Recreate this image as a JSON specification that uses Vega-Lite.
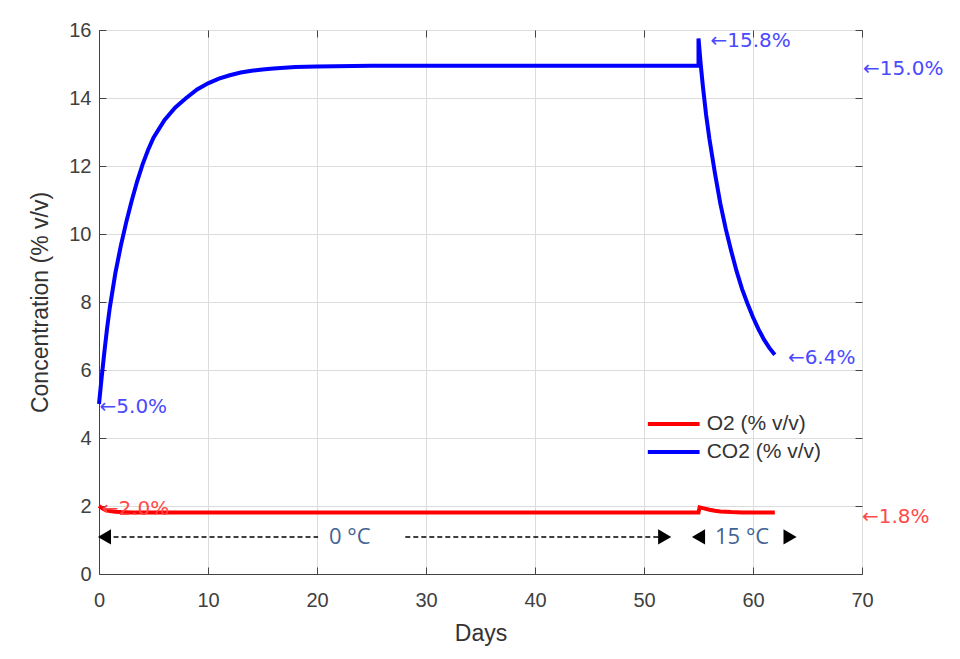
{
  "$schema": "https://vega.github.io/schema/vega-lite/v6.json",
  "width": 763,
  "height": 544,
  "autosize": {"type": "none"},
  "padding": {"left": 99, "top": 30, "right": 98, "bottom": 85},
  "background": "white",
  "config": {
    "view": {"stroke": "#444444", "strokeWidth": 1},
    "axis": {
      "labelFont": "Liberation Sans",
      "labelFontSize": 20,
      "labelColor": "#404040",
      "titleFont": "Liberation Sans",
      "titleFontSize": 23,
      "titleFontWeight": "normal",
      "titleColor": "#333333",
      "gridColor": "#dcdcdc",
      "gridWidth": 1,
      "domainColor": "#444444",
      "tickColor": "#444444",
      "tickSize": -7,
      "tickWidth": 1
    }
  },
  "datasets": {
    "lines": [
      {"seq": 1, "series": "CO2 (% v/v)", "day": 0, "value": 5.0},
      {"seq": 2, "series": "CO2 (% v/v)", "day": 0.25, "value": 5.8},
      {"seq": 3, "series": "CO2 (% v/v)", "day": 0.5, "value": 6.55},
      {"seq": 4, "series": "CO2 (% v/v)", "day": 0.75, "value": 7.25},
      {"seq": 5, "series": "CO2 (% v/v)", "day": 1, "value": 7.85},
      {"seq": 6, "series": "CO2 (% v/v)", "day": 1.5, "value": 8.85},
      {"seq": 7, "series": "CO2 (% v/v)", "day": 2, "value": 9.65},
      {"seq": 8, "series": "CO2 (% v/v)", "day": 2.5, "value": 10.35},
      {"seq": 9, "series": "CO2 (% v/v)", "day": 3, "value": 10.98},
      {"seq": 10, "series": "CO2 (% v/v)", "day": 3.5, "value": 11.55},
      {"seq": 11, "series": "CO2 (% v/v)", "day": 4, "value": 12.05},
      {"seq": 12, "series": "CO2 (% v/v)", "day": 4.5, "value": 12.47},
      {"seq": 13, "series": "CO2 (% v/v)", "day": 5, "value": 12.83},
      {"seq": 14, "series": "CO2 (% v/v)", "day": 6, "value": 13.35},
      {"seq": 15, "series": "CO2 (% v/v)", "day": 7, "value": 13.72},
      {"seq": 16, "series": "CO2 (% v/v)", "day": 8, "value": 14.0},
      {"seq": 17, "series": "CO2 (% v/v)", "day": 9, "value": 14.25},
      {"seq": 18, "series": "CO2 (% v/v)", "day": 10, "value": 14.43},
      {"seq": 19, "series": "CO2 (% v/v)", "day": 11, "value": 14.57},
      {"seq": 20, "series": "CO2 (% v/v)", "day": 12, "value": 14.67},
      {"seq": 21, "series": "CO2 (% v/v)", "day": 13, "value": 14.75},
      {"seq": 22, "series": "CO2 (% v/v)", "day": 14, "value": 14.8},
      {"seq": 23, "series": "CO2 (% v/v)", "day": 15, "value": 14.84},
      {"seq": 24, "series": "CO2 (% v/v)", "day": 16, "value": 14.87},
      {"seq": 25, "series": "CO2 (% v/v)", "day": 18, "value": 14.91},
      {"seq": 26, "series": "CO2 (% v/v)", "day": 20, "value": 14.93},
      {"seq": 27, "series": "CO2 (% v/v)", "day": 25, "value": 14.95},
      {"seq": 28, "series": "CO2 (% v/v)", "day": 30, "value": 14.95},
      {"seq": 29, "series": "CO2 (% v/v)", "day": 40, "value": 14.95},
      {"seq": 30, "series": "CO2 (% v/v)", "day": 50, "value": 14.95},
      {"seq": 31, "series": "CO2 (% v/v)", "day": 55, "value": 14.95},
      {"seq": 32, "series": "CO2 (% v/v)", "day": 55, "value": 15.75},
      {"seq": 33, "series": "CO2 (% v/v)", "day": 55.2, "value": 15.0},
      {"seq": 34, "series": "CO2 (% v/v)", "day": 55.4, "value": 14.35},
      {"seq": 35, "series": "CO2 (% v/v)", "day": 55.7, "value": 13.5},
      {"seq": 36, "series": "CO2 (% v/v)", "day": 56, "value": 12.8},
      {"seq": 37, "series": "CO2 (% v/v)", "day": 56.5, "value": 11.8},
      {"seq": 38, "series": "CO2 (% v/v)", "day": 57, "value": 10.9},
      {"seq": 39, "series": "CO2 (% v/v)", "day": 57.5, "value": 10.15},
      {"seq": 40, "series": "CO2 (% v/v)", "day": 58, "value": 9.5},
      {"seq": 41, "series": "CO2 (% v/v)", "day": 58.5, "value": 8.9},
      {"seq": 42, "series": "CO2 (% v/v)", "day": 59, "value": 8.38},
      {"seq": 43, "series": "CO2 (% v/v)", "day": 59.5, "value": 7.95},
      {"seq": 44, "series": "CO2 (% v/v)", "day": 60, "value": 7.55},
      {"seq": 45, "series": "CO2 (% v/v)", "day": 60.5, "value": 7.2},
      {"seq": 46, "series": "CO2 (% v/v)", "day": 61, "value": 6.9},
      {"seq": 47, "series": "CO2 (% v/v)", "day": 61.5, "value": 6.65},
      {"seq": 48, "series": "CO2 (% v/v)", "day": 62, "value": 6.45},
      {"seq": 101, "series": "O2 (% v/v)", "day": 0, "value": 2.0},
      {"seq": 102, "series": "O2 (% v/v)", "day": 0.3, "value": 1.93},
      {"seq": 103, "series": "O2 (% v/v)", "day": 0.6, "value": 1.88},
      {"seq": 104, "series": "O2 (% v/v)", "day": 1, "value": 1.85},
      {"seq": 105, "series": "O2 (% v/v)", "day": 1.5, "value": 1.83},
      {"seq": 106, "series": "O2 (% v/v)", "day": 2, "value": 1.82},
      {"seq": 107, "series": "O2 (% v/v)", "day": 3, "value": 1.81},
      {"seq": 108, "series": "O2 (% v/v)", "day": 30, "value": 1.81},
      {"seq": 109, "series": "O2 (% v/v)", "day": 55, "value": 1.81},
      {"seq": 110, "series": "O2 (% v/v)", "day": 55.1, "value": 1.96},
      {"seq": 111, "series": "O2 (% v/v)", "day": 55.5, "value": 1.93},
      {"seq": 112, "series": "O2 (% v/v)", "day": 56, "value": 1.89},
      {"seq": 113, "series": "O2 (% v/v)", "day": 56.5, "value": 1.86},
      {"seq": 114, "series": "O2 (% v/v)", "day": 57, "value": 1.84},
      {"seq": 115, "series": "O2 (% v/v)", "day": 57.5, "value": 1.83},
      {"seq": 116, "series": "O2 (% v/v)", "day": 58, "value": 1.82},
      {"seq": 117, "series": "O2 (% v/v)", "day": 59, "value": 1.81},
      {"seq": 118, "series": "O2 (% v/v)", "day": 62, "value": 1.81}
    ],
    "notes": [
      {"series": "CO2", "day": 0.05, "value": 4.9, "label": "←5.0%"},
      {"series": "CO2", "day": 56.1, "value": 15.68, "label": "←15.8%"},
      {"series": "CO2", "day": 70.1, "value": 14.85, "label": "←15.0%"},
      {"series": "CO2", "day": 63.2, "value": 6.35, "label": "←6.4%"},
      {"series": "O2", "day": 0.25, "value": 1.91, "label": "←2.0%"},
      {"series": "O2", "day": 70.0, "value": 1.68, "label": "←1.8%"}
    ],
    "spans": [
      {"start": 0.6, "end": 20.1, "value": 1.09},
      {"start": 28.1, "end": 51.6, "value": 1.09}
    ],
    "heads": [
      {"day": 0.5, "value": 1.09, "dir": "left"},
      {"day": 51.9, "value": 1.09, "dir": "right"},
      {"day": 55.0, "value": 1.09, "dir": "left"},
      {"day": 63.4, "value": 1.09, "dir": "right"}
    ],
    "temps": [
      {"day": 23.0, "value": 1.09, "label": "0 °C"},
      {"day": 59.0, "value": 1.09, "label": "15 °C"}
    ],
    "legend": [
      {"series": "O2 (% v/v)", "from": 50.35, "to": 55.1, "textday": 55.75, "value": 4.41},
      {"series": "CO2 (% v/v)", "from": 50.35, "to": 55.1, "textday": 55.75, "value": 3.59}
    ]
  },
  "layer": [
    {
      "data": {"name": "lines"},
      "mark": {"type": "line", "strokeWidth": 4, "clip": false},
      "encoding": {
        "x": {
          "field": "day", "type": "quantitative",
          "scale": {"domain": [0, 70], "nice": false, "zero": false},
          "axis": {"title": "Days", "values": [0, 10, 20, 30, 40, 50, 60, 70], "labelPadding": 23, "titlePadding": 12, "grid": true, "labelFlush": false}
        },
        "y": {
          "field": "value", "type": "quantitative",
          "scale": {"domain": [0, 16], "nice": false, "zero": false},
          "axis": {"title": "Concentration (% v/v)", "values": [0, 2, 4, 6, 8, 10, 12, 14, 16], "labelPadding": 15, "titlePadding": 16, "grid": true, "labelFlush": false}
        },
        "color": {
          "field": "series", "type": "nominal",
          "scale": {"domain": ["O2 (% v/v)", "CO2 (% v/v)"], "range": ["#ff0000", "#0000ff"]},
          "legend": null
        },
        "order": {"field": "seq", "type": "quantitative"}
      }
    },
    {
      "data": {"name": "spans"},
      "mark": {"type": "rule", "color": "black", "strokeWidth": 1.5, "strokeDash": [5, 3]},
      "encoding": {
        "x": {"field": "start", "type": "quantitative", "axis": {"orient": "top", "labels": false, "title": null, "grid": false, "domain": false, "values": [0, 10, 20, 30, 40, 50, 60, 70]}},
        "x2": {"field": "end"},
        "y": {"field": "value", "type": "quantitative", "axis": {"orient": "right", "labels": false, "title": null, "grid": false, "domain": false, "values": [0, 2, 4, 6, 8, 10, 12, 14, 16]}}
      }
    },
    {
      "data": {"name": "heads"},
      "mark": {"type": "point", "filled": true, "color": "black", "opacity": 1, "size": 230},
      "encoding": {
        "x": {"field": "day", "type": "quantitative", "axis": null},
        "y": {"field": "value", "type": "quantitative", "axis": null},
        "shape": {"field": "dir", "type": "nominal", "scale": {"domain": ["left", "right"], "range": ["triangle-left", "triangle-right"]}, "legend": null}
      }
    },
    {
      "data": {"name": "temps"},
      "mark": {"type": "text", "font": "Open Sans", "fontSize": 22, "color": "#3f6394", "align": "center", "baseline": "middle"},
      "encoding": {
        "x": {"field": "day", "type": "quantitative", "axis": null},
        "y": {"field": "value", "type": "quantitative", "axis": null},
        "text": {"field": "label"}
      }
    },
    {
      "data": {"name": "notes"},
      "transform": [{"filter": "datum.series == 'CO2'"}],
      "mark": {"type": "text", "font": "DejaVu Sans", "fontSize": 20, "color": "#4a4aff", "align": "left", "baseline": "middle"},
      "encoding": {
        "x": {"field": "day", "type": "quantitative", "axis": null},
        "y": {"field": "value", "type": "quantitative", "axis": null},
        "text": {"field": "label"}
      }
    },
    {
      "data": {"name": "notes"},
      "transform": [{"filter": "datum.series == 'O2'"}],
      "mark": {"type": "text", "font": "DejaVu Sans", "fontSize": 20, "color": "#ff4a4a", "align": "left", "baseline": "middle"},
      "encoding": {
        "x": {"field": "day", "type": "quantitative", "axis": null},
        "y": {"field": "value", "type": "quantitative", "axis": null},
        "text": {"field": "label"}
      }
    },
    {
      "data": {"name": "legend"},
      "mark": {"type": "rule", "strokeWidth": 4},
      "encoding": {
        "x": {"field": "from", "type": "quantitative", "axis": null},
        "x2": {"field": "to"},
        "y": {"field": "value", "type": "quantitative", "axis": null},
        "color": {"field": "series", "type": "nominal", "legend": null}
      }
    },
    {
      "data": {"name": "legend"},
      "mark": {"type": "text", "font": "Liberation Sans", "fontSize": 21, "color": "#333333", "align": "left", "baseline": "middle"},
      "encoding": {
        "x": {"field": "textday", "type": "quantitative", "axis": null},
        "y": {"field": "value", "type": "quantitative", "axis": null},
        "text": {"field": "series"}
      }
    }
  ],
  "resolve": {"axis": {"x": "independent", "y": "independent"}}
}
